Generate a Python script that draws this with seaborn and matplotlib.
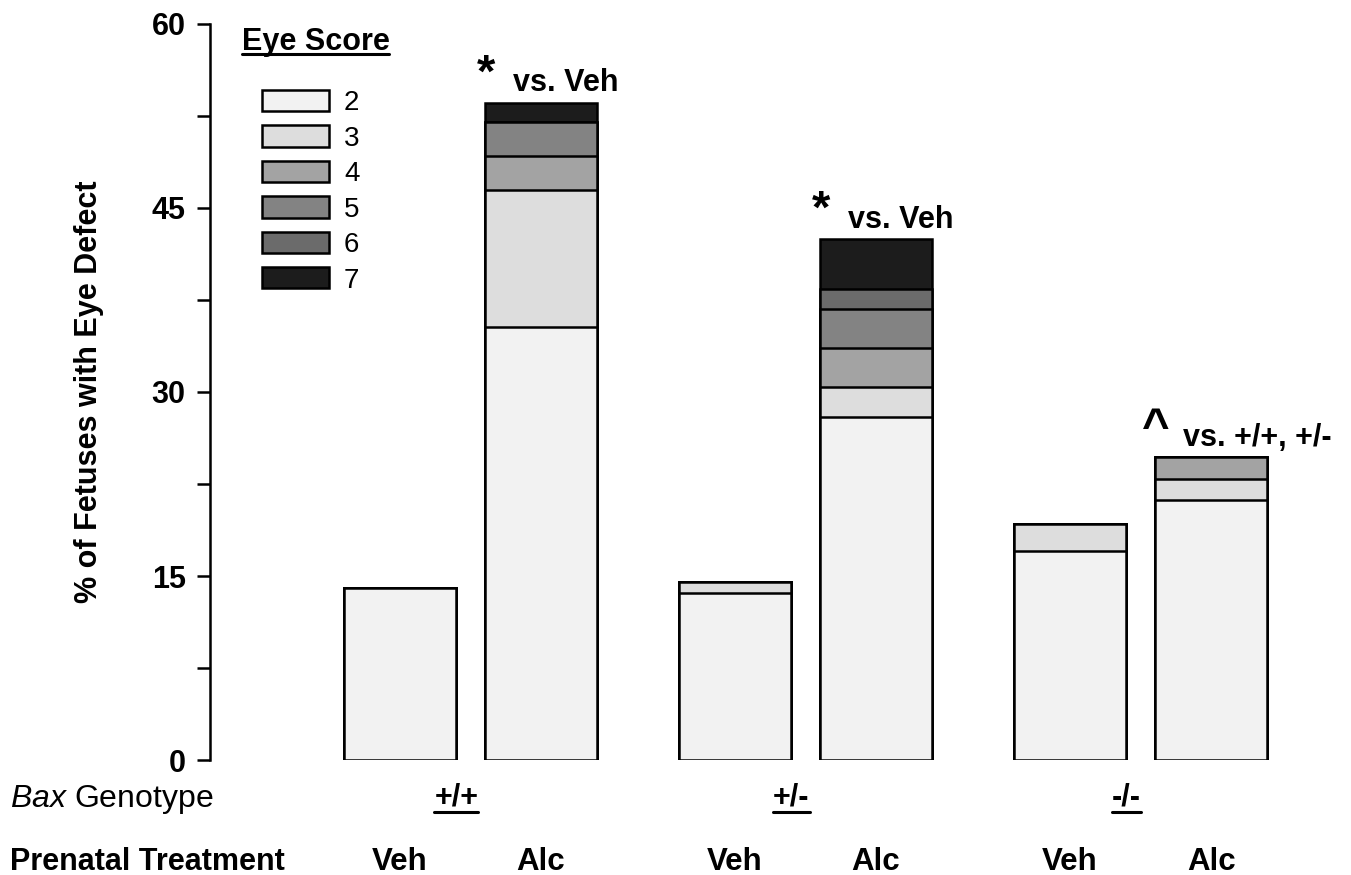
import numpy as np
import pandas as pd
import matplotlib
matplotlib.use("Agg")
import matplotlib.pyplot as plt
import matplotlib.transforms as mtransforms
from matplotlib.patches import Patch
from matplotlib.lines import Line2D
import seaborn as sns

# data
genotypes = ["+/+", "+/-", "-/-"]
treatments = ["Veh", "Alc"]
scores = ["2", "3", "4", "5", "6", "7"]
# % of fetuses per eye score; bars: +/+ Veh, +/+ Alc, +/- Veh, +/- Alc, -/- Veh, -/- Alc
score2 = [14.0, 35.3, 13.6, 28.0, 17.0, 21.2]
score3 = [0.0, 11.15, 0.9, 2.4, 2.2, 1.7]
score4 = [0.0, 2.8, 0.0, 3.2, 0.0, 1.8]
score5 = [0.0, 2.8, 0.0, 3.2, 0.0, 0.0]
score6 = [0.0, 0.0, 0.0, 1.6, 0.0, 0.0]
score7 = [0.0, 1.55, 0.0, 4.1, 0.0, 0.0]
score_colors = ["#f2f2f2", "#dddddd", "#a3a3a3", "#838383", "#6b6b6b", "#1c1c1c"]
sig_marks = ["", "*", "", "*", "", "^"]
sig_notes = ["", "vs. Veh", "", "vs. Veh", "", "vs. +/+, +/-"]

sns.set_style("white")
plt.rcParams["font.family"] = ["Liberation Sans", "DejaVu Sans"]
plt.rcParams["mathtext.fontset"] = "custom"
plt.rcParams["mathtext.it"] = "Liberation Sans:italic"
plt.rcParams["mathtext.rm"] = "Liberation Sans"
plt.rcParams["text.color"] = "black"
plt.rcParams["axes.labelcolor"] = "black"
plt.rcParams["ytick.color"] = "black"

W, H = 1351, 875
# bar positions: 1 unit between Veh/Alc, bigger gap between genotypes
group_gap = 2.376
pos = [g * group_gap + t for g in range(len(genotypes)) for t in range(len(treatments))]

layers = np.array([score2, score3, score4, score5, score6, score7])
cum = layers.cumsum(axis=0)

fig = plt.figure(figsize=(W / 100, H / 100), dpi=100)
ax = fig.add_axes([210 / W, 1 - 760 / H, 1130 / W, 736 / H])

# stacked bars: draw the tallest cumulative first, then overlay lower ones
for k in reversed(range(len(scores))):
    df = pd.DataFrame({"pos": pos, "pct": cum[k]})
    sns.barplot(data=df, x="pos", y="pct", native_scale=True, width=0.8,
                color=score_colors[k], saturation=1, edgecolor="black",
                linewidth=1.8, errorbar=None, ax=ax)

ax.set_xlim(-190 / 141, 940 / 141)
ax.set_ylim(0, 60)
ax.set_xticks([])
ax.set_xlabel("")
ax.set_yticks([0, 15, 30, 45, 60])
ax.set_yticks([7.5, 22.5, 37.5, 52.5], minor=True)
ax.tick_params(axis="y", which="both", direction="out", length=9.5, width=1.8,
               color="black", labelcolor="black", left=True, labelsize=22, pad=8)
for lbl in ax.get_yticklabels():
    lbl.set_fontweight("bold")
for s in ["top", "right", "bottom"]:
    ax.spines[s].set_visible(False)
ax.spines["left"].set_color("black")
ax.spines["left"].set_linewidth(1.8)
ax.set_ylabel("% of Fetuses with Eye Defect", fontsize=22, fontweight="bold")
ax.yaxis.set_label_coords(-0.094, 0.5)

# significance marks
for i in range(len(pos)):
    if sig_marks[i]:
        top = cum[-1][i]
        ax.text(pos[i] - 0.39, top + 1.3, sig_marks[i], fontsize=34, fontweight="bold",
                ha="center", va="baseline")
        ax.text(pos[i] - 0.2, top + 1.55, sig_notes[i], fontsize=22, fontweight="bold",
                ha="left", va="center")

# labels under the axis
trans = mtransforms.blended_transform_factory(ax.transData, fig.transFigure)
fig.text(10 / W, 1 - 807 / H, r"$\mathit{Bax}$ Genotype", fontsize=23, va="baseline")
fig.text(10 / W, 1 - 870 / H, "Prenatal Treatment", fontsize=22, fontweight="bold",
         va="baseline")
underlined = []
for g, name in enumerate(genotypes):
    xc = (pos[2 * g] + pos[2 * g + 1]) / 2 - 0.1
    t = ax.text(xc, 1 - 806 / H, name, transform=trans, fontsize=22, fontweight="bold",
                ha="center", va="baseline")
    underlined.append((t, 806, 6))
for i in range(len(pos)):
    ax.text(pos[i], 1 - 870 / H, treatments[i % 2], transform=trans, fontsize=22.5,
            fontweight="bold", ha="center", va="baseline")

# legend
handles = [Patch(facecolor=c, edgecolor="black", linewidth=1.8) for c in score_colors]
ax.legend(handles, scores, loc="upper left", bbox_to_anchor=(262 / W, 1 - 90 / H),
          bbox_transform=fig.transFigure, frameon=False, fontsize=20,
          handlelength=2.4, handleheight=0.8, labelspacing=0.33, handletextpad=0.55,
          borderpad=0, borderaxespad=0)
t = fig.text(315.5 / W, 1 - 50 / H, "Eye Score", fontsize=22, fontweight="bold",
             ha="center", va="baseline")
underlined.append((t, 50, 3.5))

# underlines
fig.canvas.draw()
renderer = fig.canvas.get_renderer()
for t, base, off in underlined:
    bb = t.get_window_extent(renderer)
    y = 1 - (base + off) / H
    fig.add_artist(Line2D([bb.x0 / W, bb.x1 / W], [y, y], color="black", linewidth=2.2,
                          transform=fig.transFigure))

fig.savefig("out.png", dpi=100)
